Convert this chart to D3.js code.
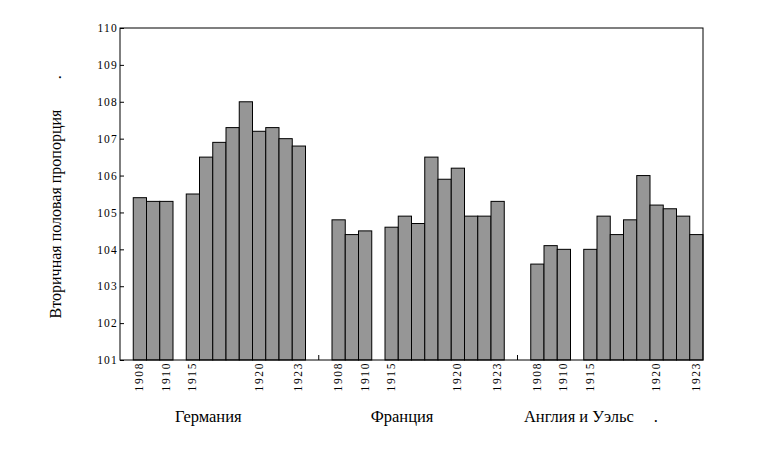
<!DOCTYPE html>
<html>
<head>
<meta charset="utf-8">
<script src="https://cdn.jsdelivr.net/npm/d3@7"></script>
<style>
  body { margin: 0; background: #fff; }
</style>
</head>
<body>
<svg id="myGraph" width="764" height="449"></svg>
<script>
// data
var countries = ["Германия", "Франция", "Англия и Уэльс"];
var yearsEarly = [1908, 1909, 1910];
var yearsLate = [1915, 1916, 1917, 1918, 1919, 1920, 1921, 1922, 1923];
var germany = [105.4, 105.3, 105.3, 105.5, 106.5, 106.9, 107.3, 108.0, 107.2, 107.3, 107.0, 106.8];
var france  = [104.8, 104.4, 104.5, 104.6, 104.9, 104.7, 106.5, 105.9, 106.2, 104.9, 104.9, 105.3];
var england = [103.6, 104.1, 104.0, 104.0, 104.9, 104.4, 104.8, 106.0, 105.2, 105.1, 104.9, 104.4];
var tickYears = [1908, 1910, 1915, 1920, 1923];
var yTicks = [101, 102, 103, 104, 105, 106, 107, 108, 109, 110];
var yTitle = "Вторичная половая пропорция";

// layout
const LEFT = 120, RIGHT = 703, TOP = 28, BOTTOM = 360;
const LABEL_SHIFT = [-11, -16, -38];
const SERIF = "'Liberation Serif', serif";

var svg = d3.select("#myGraph");
var series = [germany, france, england];

// slots: 1 empty, then per country 3 + gap + 9, 2 empty between countries
var slots = ["pad"];
var bars = [];
var seps = [];
countries.forEach(function(c, ci){
  if(ci > 0){
    slots.push("s" + ci + "a");
    slots.push("s" + ci + "b");
    seps.push("s" + ci + "b");
  }
  var years = yearsEarly.concat(["gap"], yearsLate);
  var k = 0;
  years.forEach(function(yr){
    var id = c + "-" + yr;
    slots.push(id);
    if(yr != "gap"){
      bars.push({country: ci, year: yr, id: id, value: series[ci][k]});
      k++;
    }
  });
});

var x = d3.scaleBand().domain(slots).range([LEFT, RIGHT]).padding(0);
var y = d3.scaleLinear().domain([101, 110]).range([BOTTOM, TOP]);

// bars
svg.selectAll(".bar")
  .data(bars)
  .enter()
  .append("rect")
  .attr("class", "bar")
  .attr("x", function(d){ return x(d.id); })
  .attr("width", x.bandwidth())
  .attr("y", function(d){ return y(d.value); })
  .attr("height", function(d){ return y(101) - y(d.value); })
  .attr("fill", "#969696")
  .attr("stroke", "#000")
  .attr("stroke-width", 1);

// frame
svg.append("rect")
  .attr("x", LEFT).attr("y", TOP)
  .attr("width", RIGHT - LEFT).attr("height", BOTTOM - TOP)
  .attr("fill", "none").attr("stroke", "#000").attr("stroke-width", 1);

// y axis
svg.append("g")
  .attr("class", "axisY")
  .attr("transform", "translate(" + LEFT + ",0)")
  .call(d3.axisLeft(y).tickValues(yTicks).tickSize(-4).tickSizeOuter(0).tickPadding(2).tickFormat(d3.format("d")))
  .call(function(g){
    g.select(".domain").remove();
    g.selectAll("text")
      .style("font-family", SERIF)
      .style("font-size", "11.5px")
      .style("letter-spacing", "1.2px");
  });

// separator ticks on the x axis
svg.selectAll(".sep")
  .data(seps)
  .enter()
  .append("line")
  .attr("x1", function(d){ return x(d); })
  .attr("x2", function(d){ return x(d); })
  .attr("y1", BOTTOM)
  .attr("y2", BOTTOM - 5)
  .attr("stroke", "#000");

// year labels
var labelled = bars.filter(function(d){ return tickYears.indexOf(d.year) >= 0; });
svg.selectAll(".yr")
  .data(labelled)
  .enter()
  .append("text")
  .attr("transform", function(d){
    return "translate(" + (x(d.id) + x.bandwidth() / 2) + "," + (BOTTOM + 2) + ") rotate(-90)";
  })
  .attr("text-anchor", "end")
  .attr("dy", "0.3em")
  .style("font-family", SERIF)
  .style("font-size", "11.5px")
  .style("letter-spacing", "1.6px")
  .text(function(d){ return d.year; });

// country labels
countries.forEach(function(c, ci){
  var first = x(c + "-" + yearsEarly[0]);
  var last = x(c + "-" + yearsLate[yearsLate.length - 1]) + x.bandwidth();
  var t = svg.append("text")
    .attr("x", (first + last) / 2 + LABEL_SHIFT[ci])
    .attr("y", 422)
    .attr("text-anchor", "middle")
    .style("font-family", SERIF)
    .style("font-size", "16.5px")
    .text(c);
  if(ci == countries.length - 1){
    var bb = t.node().getBBox();
    svg.append("text")
      .attr("x", bb.x + bb.width + 20)
      .attr("y", 422)
      .style("font-family", SERIF)
      .style("font-size", "16.5px")
      .text(".");
  }
});

// y title
var yt = svg.append("text")
  .attr("transform", "translate(61," + ((TOP + BOTTOM) / 2 + 20) + ") rotate(-90)")
  .attr("text-anchor", "middle")
  .style("font-family", SERIF)
  .style("font-size", "16px")
  .text(yTitle);
var tb = yt.node().getBBox();
svg.append("text")
  .attr("transform", "translate(61," + ((TOP + BOTTOM) / 2 + 20 - tb.width / 2 - 30) + ") rotate(-90)")
  .style("font-family", SERIF)
  .style("font-size", "16px")
  .text(".");
</script>
</body>
</html>
